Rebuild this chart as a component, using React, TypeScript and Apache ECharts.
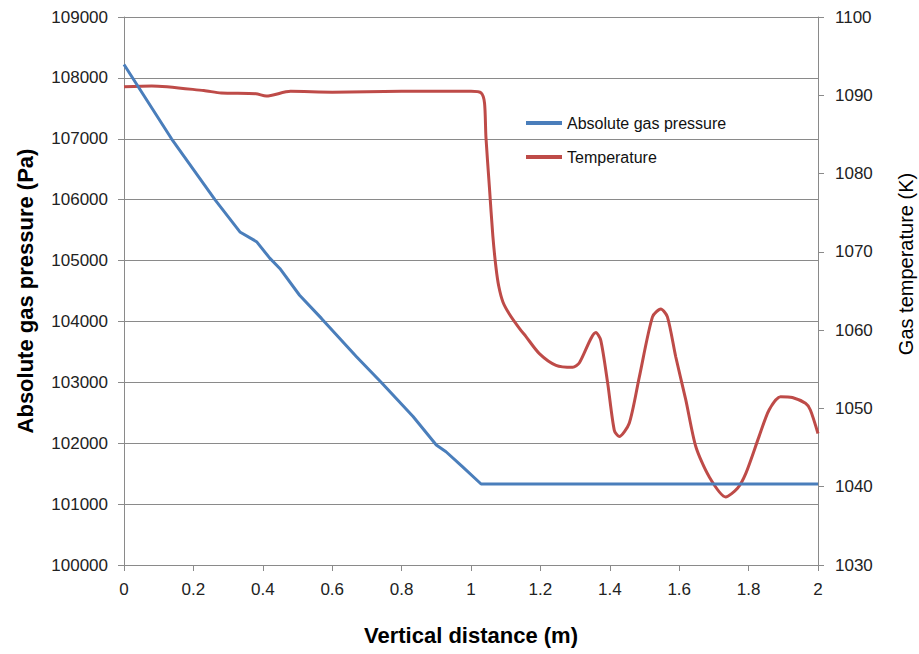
import React, { useEffect, useRef } from "react";
import * as echarts from "echarts";

const pressureDistance = [0, 0.137, 0.262, 0.334, 0.382, 0.42, 0.449, 0.506, 0.569, 0.67, 0.741, 0.833, 0.9, 0.928, 0.976, 1.029, 2.0];
const pressureValues = [108220, 107000, 106000, 105470, 105310, 105040, 104870, 104430, 104050, 103420, 103000, 102440, 101970, 101860, 101610, 101330, 101330];

const temperatureDistance = [0, 0.08, 0.23, 0.28, 0.38, 0.41, 0.48, 0.6, 0.8, 1.0, 1.029, 1.039, 1.043, 1.053, 1.063, 1.072, 1.08, 1.092, 1.11, 1.14, 1.158, 1.197, 1.245, 1.293, 1.312, 1.36, 1.374, 1.394, 1.413, 1.427, 1.456, 1.485, 1.523, 1.547, 1.566, 1.59, 1.619, 1.648, 1.686, 1.734, 1.768, 1.792, 1.83, 1.859, 1.892, 1.926, 1.964, 1.978, 2.0];
const temperatureValues = [1091.1, 1091.2, 1090.6, 1090.3, 1090.2, 1089.9, 1090.5, 1090.4, 1090.5, 1090.5, 1090.3, 1089.0, 1084.7, 1078.3, 1072.0, 1068.0, 1065.6, 1063.6, 1062.1, 1060.2, 1059.2, 1057.0, 1055.5, 1055.25, 1055.8, 1059.7, 1058.7, 1053.2, 1047.2, 1046.4, 1048.1, 1054.0, 1061.7, 1062.7, 1061.7, 1056.6, 1051.1, 1045.1, 1041.3, 1038.7, 1039.8, 1041.7, 1046.4, 1049.8, 1051.5, 1051.4, 1050.65, 1049.8, 1046.8];

const seriesNames = ["Absolute gas pressure", "Temperature"];
const xTitle = "Vertical distance (m)";
const leftTitle = "Absolute gas pressure (Pa)";
const rightTitle = "Gas temperature (K)";

const FONT = "Liberation Sans";
const GRID_COLOR = "#8a8a8a";

export default function App() {
  const ref = useRef<HTMLDivElement>(null);
  useEffect(() => {
    if (!ref.current) return;
    const chart = echarts.init(ref.current, null, { renderer: "svg" });
    const pData = pressureDistance.map((d, i) => [d, pressureValues[i]]);
    const tData = temperatureDistance.map((d, i) => [d, temperatureValues[i]]);
    const plain = (v: number) => String(v);
    chart.setOption({
      animation: false,
      backgroundColor: "#ffffff",
      textStyle: { fontFamily: FONT },
      grid: { left: 124, right: 101, top: 17, bottom: 89, containLabel: false },
      legend: {
        data: seriesNames,
        orient: "vertical",
        left: 521,
        top: 110,
        itemWidth: 36,
        itemHeight: 4,
        itemGap: 18,
        icon: "rect",
        textStyle: { fontFamily: FONT, fontSize: 16, color: "#111" },
      },
      xAxis: {
        type: "value",
        min: 0,
        max: 2,
        interval: 0.2,
        name: xTitle,
        nameLocation: "middle",
        nameGap: 59,
        nameTextStyle: { fontFamily: FONT, fontSize: 22, fontWeight: "bold", color: "#000" },
        axisLine: { lineStyle: { color: GRID_COLOR, width: 1 } },
        axisTick: { show: true, inside: false, length: 6, lineStyle: { color: GRID_COLOR } },
        axisLabel: { fontFamily: FONT, fontSize: 17, color: "#222", margin: 16, formatter: plain },
        splitLine: { show: false },
      },
      yAxis: [
        {
          type: "value",
          min: 100000,
          max: 109000,
          interval: 1000,
          position: "left",
          name: leftTitle,
          nameLocation: "middle",
          nameRotate: 90,
          nameGap: 88,
          nameTextStyle: { fontFamily: FONT, fontSize: 22, fontWeight: "bold", color: "#000" },
          axisLine: { show: true, lineStyle: { color: GRID_COLOR, width: 1 } },
          axisTick: { show: true, inside: false, length: 6, lineStyle: { color: GRID_COLOR } },
          axisLabel: { fontFamily: FONT, fontSize: 17, color: "#222", margin: 16, formatter: plain },
          splitLine: { show: true, lineStyle: { color: GRID_COLOR, width: 1 } },
        },
        {
          type: "value",
          min: 1030,
          max: 1100,
          interval: 10,
          position: "right",
          axisLine: { show: true, lineStyle: { color: GRID_COLOR, width: 1 } },
          axisTick: { show: true, inside: false, length: 6, lineStyle: { color: GRID_COLOR } },
          axisLabel: { fontFamily: FONT, fontSize: 17, color: "#222", margin: 17, formatter: plain },
          splitLine: { show: false },
        },
      ],
      graphic: [
        {
          type: "text",
          x: 906,
          y: 264,
          rotation: Math.PI / 2,
          style: {
            text: rightTitle,
            fontFamily: FONT,
            fontSize: 20,
            fill: "#000",
            align: "center",
            verticalAlign: "middle",
          },
        },
      ],
      series: [
        {
          name: seriesNames[0],
          type: "line",
          yAxisIndex: 0,
          data: pData,
          showSymbol: false,
          symbol: "none",
          lineStyle: { color: "#4a7ebb", width: 3 },
          itemStyle: { color: "#4a7ebb" },
          z: 3,
        },
        {
          name: seriesNames[1],
          type: "line",
          yAxisIndex: 1,
          data: tData,
          showSymbol: false,
          symbol: "none",
          smooth: 0.25,
          lineStyle: { color: "#be4b48", width: 3 },
          itemStyle: { color: "#be4b48" },
          z: 2,
        },
      ],
    });
    return () => chart.dispose();
  }, []);
  return <div ref={ref} style={{ width: 919, height: 654, position: "absolute", left: 0, top: 0 }} />;
}
